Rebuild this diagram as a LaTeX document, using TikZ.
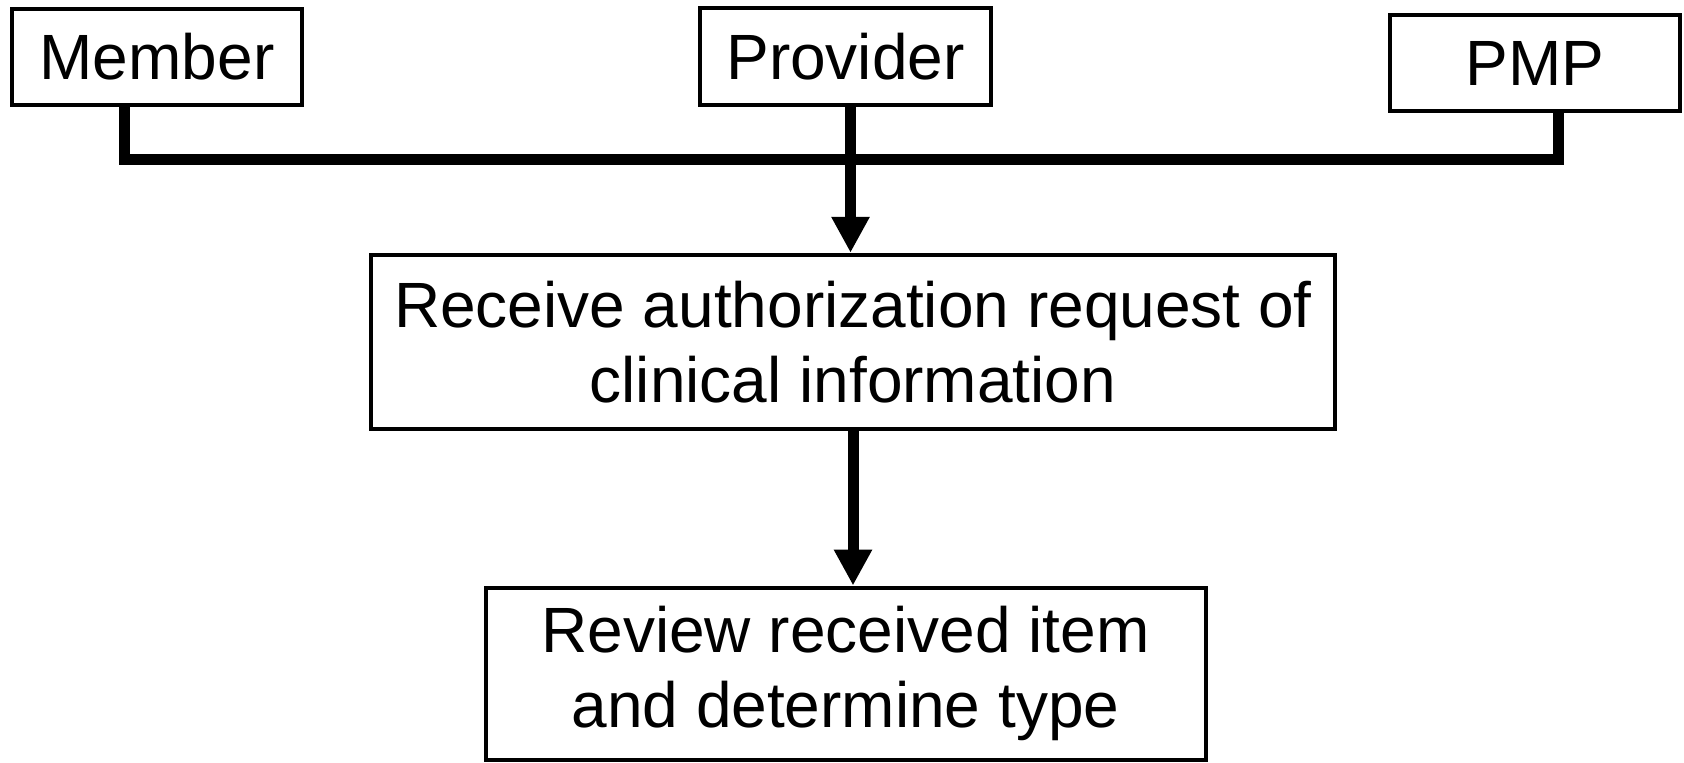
\documentclass[tikz,border=0pt]{standalone}
\usepackage{fontspec}
\setmainfont{Liberation Sans}
\usetikzlibrary{arrows.meta}
\begin{document}
\begin{tikzpicture}[x=0.5pt,y=-0.5pt,
  box/.style={draw=black, line width=2pt, fill=white, inner sep=0pt, align=center,
    font=\fontsize{32}{37.5}\selectfont},
  conn/.style={line width=5.5pt, line join=miter},
  arr/.style={conn, -{Triangle[length=18pt,width=18pt]}}]
\useasboundingbox (0,0) rectangle (1684,762);
\node[box, minimum width=145pt, minimum height=48pt] (mem) at (157,57) {Member};
\node[box, minimum width=145.5pt, minimum height=48.5pt] (prov) at (845.5,56.5) {Provider};
\node[box, minimum width=145pt, minimum height=48pt] (pmp) at (1535,63) {PMP};
\node[box, minimum width=482pt, minimum height=87.25pt] (recv) at (853,342) {Receive authorization request of\\clinical information};
\node[box, minimum width=360pt, minimum height=86.25pt] (rev) at (845.5,673.75) {Review received item\\and determine type};
\coordinate (bus) at (0,159);
\coordinate (ms) at ([xshift=-16.5pt]mem.south);
\coordinate (ps) at ([xshift=11.5pt]pmp.south);
\coordinate (vs) at ([xshift=2.5pt]prov.south);
\draw[conn] (ms) |- (ps |- bus) -- (ps);
\draw[arr] (vs) -- (vs |- recv.north);
\draw[arr] (recv.south) -- (recv.south |- rev.north);
\end{tikzpicture}
\end{document}
